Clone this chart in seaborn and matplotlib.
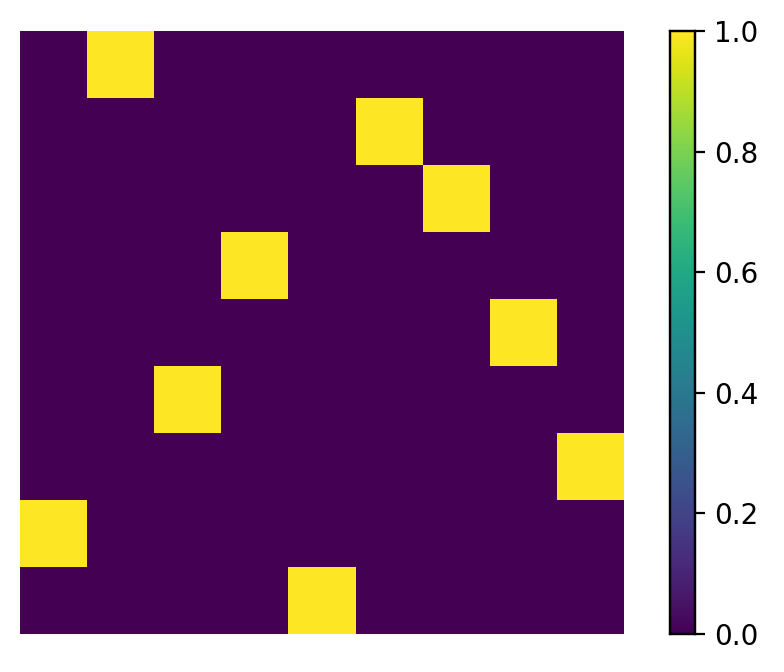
import numpy as np
import matplotlib
matplotlib.use("Agg")
import matplotlib.pyplot as plt
import seaborn as sns

# columna del 1 en cada fila (matriz de permutación 9x9)
n = 9
cols = [1, 5, 6, 3, 7, 2, 8, 0, 4]

matriz = np.zeros((n, n))
for fila, col in enumerate(cols):
    matriz[fila, col] = 1

fig = plt.figure(figsize=(3.92, 3.36), dpi=200)
ax = fig.add_axes([0.0255, 0.0565, 0.7705, 0.8975])
cax = fig.add_axes([0.8546, 0.0565, 0.0319, 0.8975])

sns.heatmap(matriz, ax=ax, cbar_ax=cax, cmap="viridis", vmin=0, vmax=1,
            xticklabels=False, yticklabels=False, linewidths=0)
ax.set_xticks([])
ax.set_yticks([])
cax.set_yticks([0.0, 0.2, 0.4, 0.6, 0.8, 1.0])
cax.tick_params(labelsize=10, length=3.5, width=0.8)
for s in cax.spines.values():
    s.set_visible(True)
    s.set_linewidth(0.8)

fig.savefig("out.png", dpi=200)
